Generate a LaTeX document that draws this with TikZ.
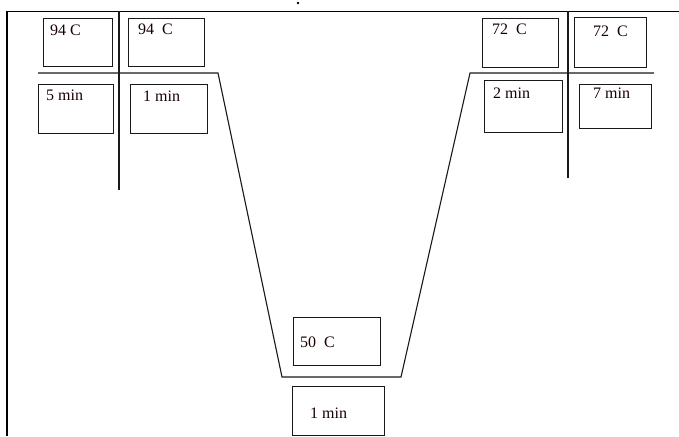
\documentclass[tikz,border=0pt]{standalone}
\usepackage{fontspec}
\setmainfont{Liberation Serif}
\begin{document}
\begin{tikzpicture}[x=1pt,y=-1pt,
  box/.style={draw=black!90, line width=1.1pt, anchor=north west, inner sep=0pt},
  txt/.style={anchor=base west, inner sep=0pt, font=\fontsize{16}{18}\selectfont, text=black!90!red},
  frame/.style={draw=black, line width=1.3pt},
  profile/.style={draw=black!90, line width=1.1pt}]
\useasboundingbox (0,0) rectangle (679,436);
% frame
\coordinate (tl) at (7,11.5);
\coordinate (tr) at (679,11.5);
\coordinate (bl) at (7,436);
\draw[frame] (bl) -- (tl) -- (tr);
\fill (298,3) circle (1.4);
% dividers
\coordinate (v1t) at (119,11.5);
\coordinate (v1b) at (119,190);
\coordinate (v2t) at (568,11.5);
\coordinate (v2b) at (568,178);
\draw[profile] (v1t) -- (v1b);
\draw[profile] (v2t) -- (v2b);
% temperature profile
\coordinate (p0) at (38,73);
\coordinate (p1) at (218,73);
\coordinate (p2) at (282,377);
\coordinate (p3) at (401,377);
\coordinate (p4) at (470,73);
\coordinate (p5) at (654,73);
\draw[profile] (p0) -- (p1) -- (p2) -- (p3) -- (p4) -- (p5);
% boxes
\node[box, minimum width=69pt, minimum height=48pt] (b1) at (43,18) {};
\node[txt] (t1) at (50,36) {94 C};
\node[box, minimum width=76pt, minimum height=48pt] (b2) at (128,18) {};
\node[txt] (t2) at (138,35) {94~~C};
\node[box, minimum width=75pt, minimum height=49pt] (b3) at (38,84) {};
\node[txt] (t3) at (46,100) {5 min};
\node[box, minimum width=77pt, minimum height=49pt] (b4) at (130,84) {};
\node[txt] (t4) at (143,101) {1 min};
\node[box, minimum width=76pt, minimum height=49pt] (b5) at (482,18) {};
\node[txt] (t5) at (492,35) {72~~C};
\node[box, minimum width=72pt, minimum height=50pt] (b6) at (574,17) {};
\node[txt] (t6) at (593,37) {72~~C};
\node[box, minimum width=78pt, minimum height=52pt] (b7) at (484,80) {};
\node[txt] (t7) at (493,98) {2 min};
\node[box, minimum width=72pt, minimum height=44pt] (b8) at (579,84) {};
\node[txt] (t8) at (593,98) {7 min};
\node[box, minimum width=87pt, minimum height=48pt] (b9) at (293,317) {};
\node[txt] (t9) at (300,347) {50~~C};
\node[box, minimum width=92pt, minimum height=49pt] (b10) at (292,386) {};
\node[txt] (t10) at (310,418) {1 min};
\end{tikzpicture}
\end{document}
